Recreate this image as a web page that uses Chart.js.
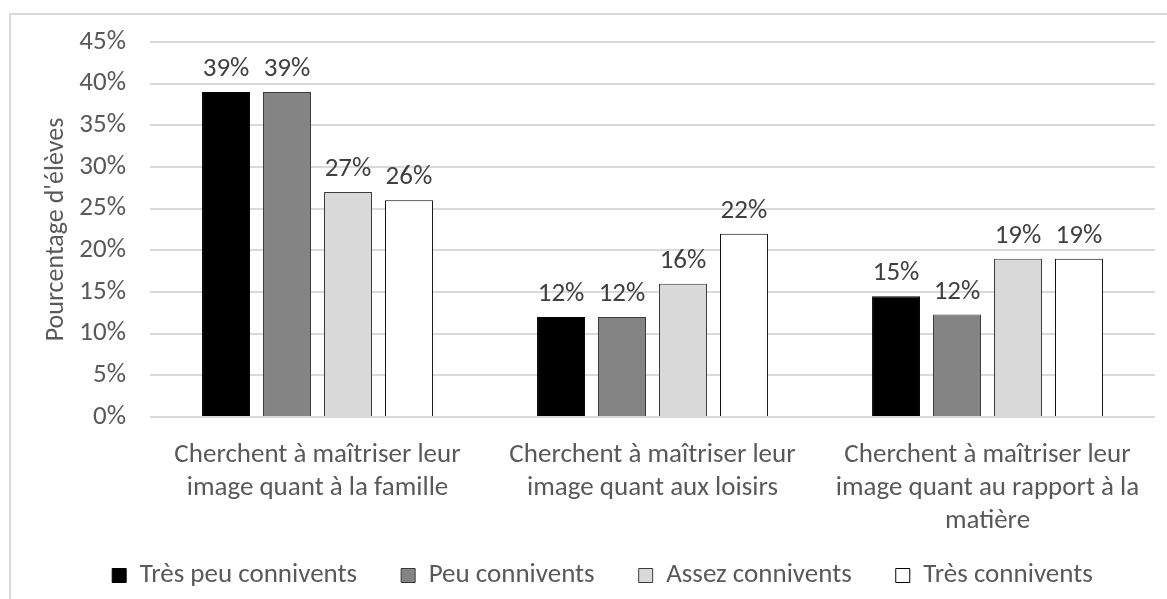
<!DOCTYPE html>
<html lang="fr">
<head>
<meta charset="utf-8">
<title>Pourcentage d'élèves</title>
<script src="https://cdn.jsdelivr.net/npm/chart.js@4.4.1/dist/chart.umd.min.js"></script>
<style>
    html, body { margin: 0; padding: 0; background: #ffffff; }
    #wrap { width: 1167px; height: 599px; position: relative; }
</style>
</head>
<body>
<div id="wrap"><canvas id="graphique"></canvas></div>
<script>
// --- données ---
const categories = [
    ['Cherchent à maîtriser leur', 'image quant à la famille'],
    ['Cherchent à maîtriser leur', 'image quant aux loisirs'],
    ['Cherchent à maîtriser leur', 'image quant au rapport à la', 'matière']
];
const seriesNames = ['Très peu connivents', 'Peu connivents', 'Assez connivents', 'Très connivents'];
const tresPeu = [39, 12, 14.5];
const peu = [39, 12, 12.3];
const assez = [27, 16, 19];
const tres = [26, 22, 19];
const yTicks = [0, 5, 10, 15, 20, 25, 30, 35, 40, 45];

const police = 'Carlito, Calibri, "Liberation Sans Narrow", "Noto Sans", sans-serif';
const gris = '#595959';
const taille = 27;

// étiquettes de valeur au-dessus des barres
const etiquettes = {
    id: 'etiquettes',
    afterDatasetsDraw(chart) {
        const ctx = chart.ctx;
        ctx.save();
        ctx.font = taille + 'px ' + police;
        ctx.fillStyle = '#404040';
        ctx.textAlign = 'center';
        ctx.textBaseline = 'alphabetic';
        chart.data.datasets.forEach((ds, i) => {
            chart.getDatasetMeta(i).data.forEach((bar, j) => {
                ctx.fillText(Math.round(ds.data[j]) + '%', bar.x, bar.y - 16);
            });
        });
        ctx.restore();
    }
};

// cadre gris clair du graphique + légende un peu décalée à droite
const cadre = {
    id: 'cadre',
    afterLayout(chart) {
        chart.legend.left += 20;
        chart.legend.right += 20;
        // la 3e ligne d'étiquette déborde sur la zone de la légende : pas de découpe
        chart.scales.x.bottom = chart.height;
    },
    beforeDraw(chart) {
        const ctx = chart.ctx;
        ctx.save();
        ctx.strokeStyle = '#d9d9d9';
        ctx.lineWidth = 2;
        ctx.beginPath();
        ctx.moveTo(10, chart.height);
        ctx.lineTo(10, 14);
        ctx.lineTo(chart.width, 14);
        ctx.stroke();
        ctx.restore();
    }
};

const couleurs = ['#000000', '#848484', '#d9d9d9', '#ffffff'];
const bords = ['#000000', '#3a3a3a', '#3a3a3a', '#000000'];
const valeurs = [tresPeu, peu, assez, tres];

const ctxBarres = document.getElementById('graphique');

new Chart(ctxBarres, {
    type: 'bar',
    data: {
        labels: categories,
        datasets: valeurs.map((v, i) => ({
            label: seriesNames[i],
            data: v,
            backgroundColor: couleurs[i],
            borderColor: bords[i],
            borderWidth: 1,
            categoryPercentage: 0.728,
            barPercentage: 0.787
        }))
    },
    options: {
        responsive: true,
        maintainAspectRatio: false,
        animation: false,
        layout: { padding: { left: 10, top: 42, right: 12, bottom: 0 } },
        plugins: {
            legend: {
                position: 'bottom',
                labels: {
                    boxWidth: 14,
                    boxHeight: 14,
                    padding: 44,
                    color: gris,
                    font: { family: police, size: taille }
                }
            },
            tooltip: { enabled: false },
            title: { display: false }
        },
        scales: {
            x: {
                afterFit(scale) { scale.height = 101; },
                grid: { display: false },
                border: { display: false },
                ticks: {
                    color: gris,
                    padding: 14,
                    maxRotation: 0,
                    autoSkip: false,
                    font: { family: police, size: taille, lineHeight: 1.22 }
                }
            },
            y: {
                min: 0,
                max: 45,
                afterFit(scale) { scale.width = 140; },
                afterBuildTicks(scale) { scale.ticks = yTicks.map(v => ({ value: v })); },
                grid: { color: '#d9d9d9', lineWidth: 2, drawTicks: false },
                border: { display: false },
                ticks: {
                    color: gris,
                    padding: 24,
                    font: { family: police, size: taille },
                    callback: v => v + '%'
                },
                title: {
                    display: true,
                    text: "Pourcentage d'élèves",
                    color: gris,
                    padding: { top: 31, bottom: 0 },
                    font: { family: police, size: 26 }
                }
            }
        }
    },
    plugins: [cadre, etiquettes]
});
</script>
</body>
</html>
